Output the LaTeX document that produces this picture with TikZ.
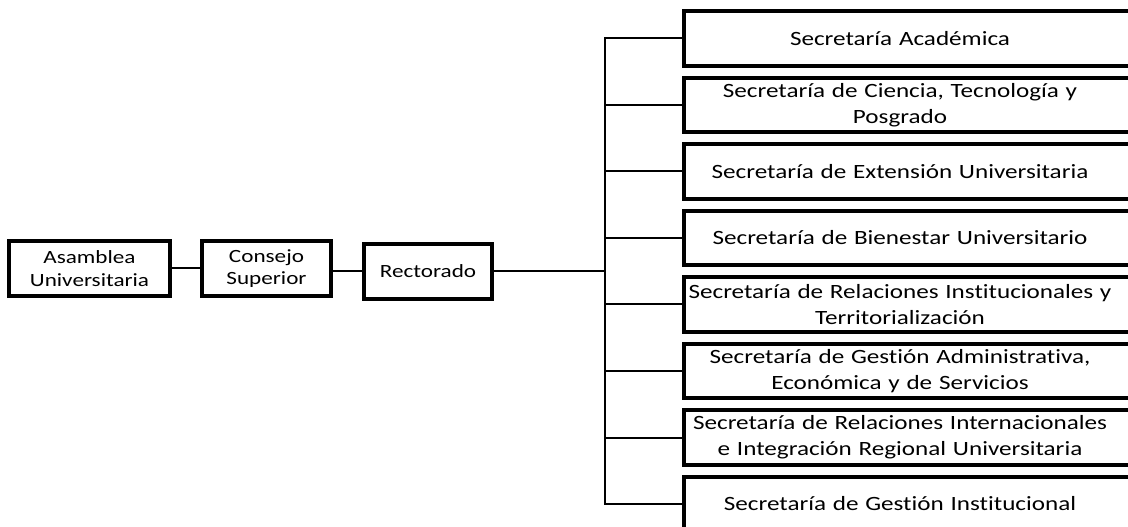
\documentclass[tikz,border=0pt]{standalone}
\usepackage{fontspec}
\setmainfont{Carlito}[FakeStretch=1.24, Ligatures=NoCommon, WordSpace=0.6]
\usetikzlibrary{positioning}

\begin{document}
\begin{tikzpicture}[
    x=0.75pt, y=-0.75pt,
    % Boxes of the main line (left)
    mainbox/.style={
        draw, line width=3pt,
        rectangle, minimum height=41.25pt,
        align=center, inner sep=2pt,
        font=\fontsize{14}{17}\selectfont
    },
    % Secretarias (text part, outline drawn after)
    secbox/.style={
        rectangle, text width=324pt, minimum height=40.5pt,
        align=center, inner sep=0pt,
        font=\fontsize{15.2}{19.5}\selectfont
    },
    outline/.style={line width=3pt},
    link/.style={line width=1.5pt}
]
\useasboundingbox (0,0) rectangle (1128,527);
\clip (0,0) rectangle (1128,527);

% Main line
\node[mainbox, minimum width=120.75pt] (asamblea) at (89.5,268.5) {Asamblea\\Universitaria};
\node[mainbox, minimum width=96.75pt] (consejo) at (266.5,268.5) {Consejo\\Superior};
\node[mainbox, minimum width=96pt] (rector) at (428,271.5) {Rectorado};

% Secretarias
\foreach \i/\txt in {
    1/{Secretaría Académica},
    2/{Secretaría de Ciencia, Tecnología y\\Posgrado},
    3/{Secretaría de Extensión Universitaria},
    4/{Secretaría de Bienestar Universitario},
    5/{Secretaría de Relaciones Institucionales y\\Territorialización},
    6/{Secretaría de Gestión Administrativa,\\Económica y de Servicios},
    7/{Secretaría de Relaciones Internacionales\\e Integración Regional Universitaria},
    8/{Secretaría de Gestión Institucional}}{
    \node[secbox] (sec\i) at (900,{38.5+66.5*(\i-1)}) {\txt};
    \draw[outline] (sec\i.north west) rectangle ([xshift=40pt]sec\i.south east);
}

% Connectors
\coordinate (trunk) at (605,0);
\draw[link] (asamblea) -- (consejo);
\draw[link] (rector.west -| consejo.east) -- (rector.west);
\draw[link] (rector) -- (rector -| trunk);
\draw[link] (sec1.west) -- (sec1.west -| trunk) -- (sec8.west -| trunk) -- (sec8.west);
\foreach \i in {2,...,7}
    \draw[link] (sec\i.west -| trunk) -- (sec\i.west);

\end{tikzpicture}
\end{document}
